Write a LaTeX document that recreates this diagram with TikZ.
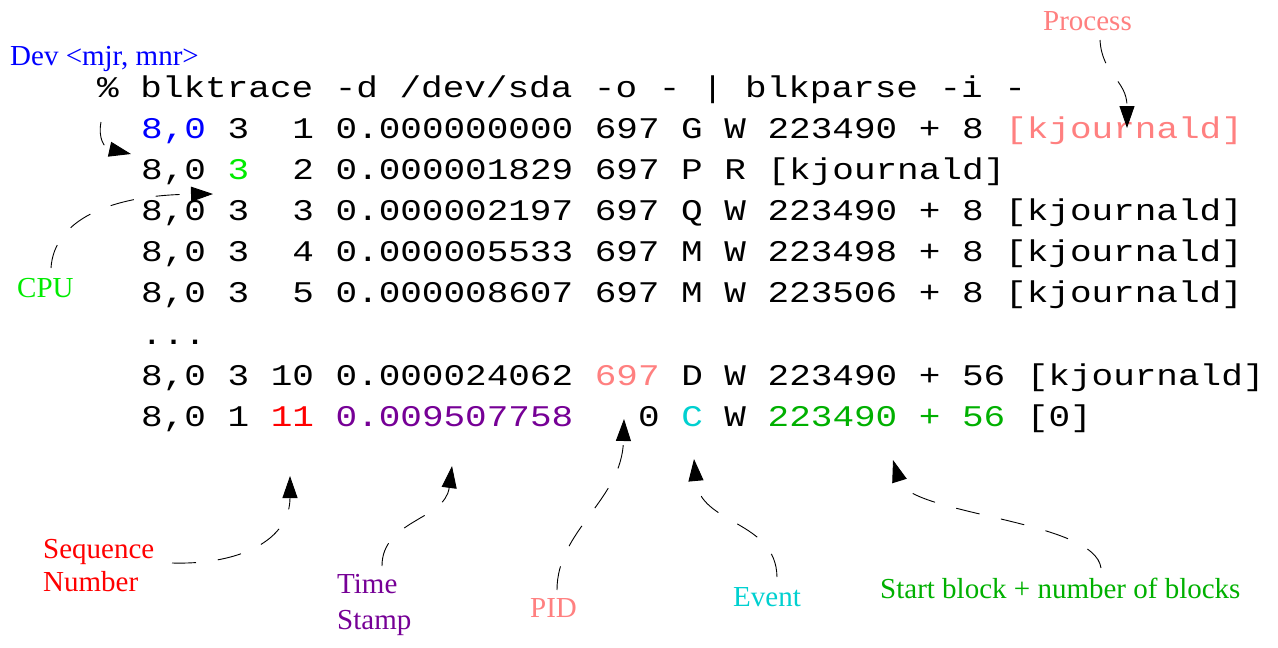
\documentclass[tikz,border=0pt]{standalone}
\usepackage{fontspec}
\setmainfont{Liberation Serif}
\setmonofont[FakeStretch=1.2]{Liberation Mono}
\usepackage{tikz}
\usetikzlibrary{arrows.meta}

\definecolor{devblue}{RGB}{0,0,255}
\definecolor{cpugreen}{RGB}{0,235,0}
\definecolor{procpink}{RGB}{255,128,128}
\definecolor{seqred}{RGB}{255,0,0}
\definecolor{stampviolet}{RGB}{118,0,150}
\definecolor{eventcyan}{RGB}{0,208,208}
\definecolor{blockgreen}{RGB}{0,176,0}

\begin{document}
\begin{tikzpicture}[x=1pt,y=-1pt,
        row/.style={anchor=base west, inner sep=0pt, font=\ttfamily\fontsize{30}{41}\selectfont},
        tag/.style={anchor=base west, inner sep=0pt, align=left, font=\fontsize{29}{35}\selectfont},
        pointer/.style={-{Triangle[length=22pt,width=15pt]}, line width=0.9pt, dash pattern=on 24pt off 22pt}]
        \useasboundingbox (0,0) rectangle (1278,648);

        % Command line
        \node[row] (cmd) at (97,97) {\%~blktrace -d /dev/sda -o - | blkparse -i -};

        % Trace output
        \node[row] (r1) at (141,138) {{\color{devblue}8,0} 3~~1 0.000000000 697 G W 223490 + 8 {\color{procpink}[kjournald]}};
        \node[row] (r2) at (141,179) {8,0 {\color{cpugreen}3}~~2 0.000001829 697 P R [kjournald]};
        \node[row] (r3) at (141,220) {8,0 3~~3 0.000002197 697 Q W 223490 + 8 [kjournald]};
        \node[row] (r4) at (141,261) {8,0 3~~4 0.000005533 697 M W 223498 + 8 [kjournald]};
        \node[row] (r5) at (141,302) {8,0 3~~5 0.000008607 697 M W 223506 + 8 [kjournald]};
        \node[row] (dots) at (141,344) {...};
        \node[row] (r10) at (141,385) {8,0 3 10 0.000024062 {\color{procpink}697} D W 223490 + 56 [kjournald]};
        \node[row] (r11) at (141,426) {8,0 1 {\color{seqred}11} {\color{stampviolet}0.009507758}~~~0 {\color{eventcyan}C} W {\color{blockgreen}223490 + 56} [0]};

        % Field names
        \node[tag, text=devblue] (dev) at (10,65) {Dev <mjr, mnr>};
        \node[tag, text=procpink] (process) at (1043,30) {Process};
        \node[tag, text=cpugreen] (cpu) at (17,297) {CPU};
        \node[tag, text=seqred] (seq) at (43,591) {Sequence\\[-2pt]Number};
        \node[tag, text=stampviolet] (stamp) at (337,629) {Time\\[1pt]Stamp};
        \node[tag, text=procpink] (pid) at (530,617) {PID};
        \node[tag, text=eventcyan] (event) at (733,606) {Event};
        \node[tag, text=blockgreen] (block) at (880,598) {Start block + number of blocks};

        % Arrow ends
        \coordinate (devtail) at (101,122);
        \coordinate (devtip) at (131,154);
        \coordinate (proctail) at (1100,40);
        \coordinate (proctip) at (1127,128);
        \coordinate (cputail) at (51,268);
        \coordinate (cputip) at (213,194);
        \coordinate (seqtail) at (172,563);
        \coordinate (seqtip) at (290,476);
        \coordinate (stamptail) at (382,566);
        \coordinate (stamptip) at (452,466);
        \coordinate (pidtail) at (557,590);
        \coordinate (pidtip) at (624,419);
        \coordinate (eventtail) at (777,577);
        \coordinate (eventtip) at (694,459);
        \coordinate (blocktail) at (1101,568);
        \coordinate (blocktip) at (893,460);

        % Pointers
        \draw[pointer] (devtail) .. controls (98,138) and (104,148) .. (devtip);
        \draw[pointer] (proctail) .. controls (1102,75) and (1127,80) .. (proctip);
        \draw[pointer] (cputail) .. controls (54,220) and (110,195) .. (cputip);
        \draw[pointer] (seqtail) .. controls (240,565) and (290,540) .. (seqtip);
        \draw[pointer] (stamptail) .. controls (382,520) and (445,520) .. (stamptip);
        \draw[pointer] (pidtail) .. controls (557,530) and (622,500) .. (pidtip);
        \draw[pointer] (eventtail) .. controls (776,520) and (700,525) .. (eventtip);
        \draw[pointer] (blocktail) .. controls (1095,520) and (910,515) .. (blocktip);
    \end{tikzpicture}
\end{document}
